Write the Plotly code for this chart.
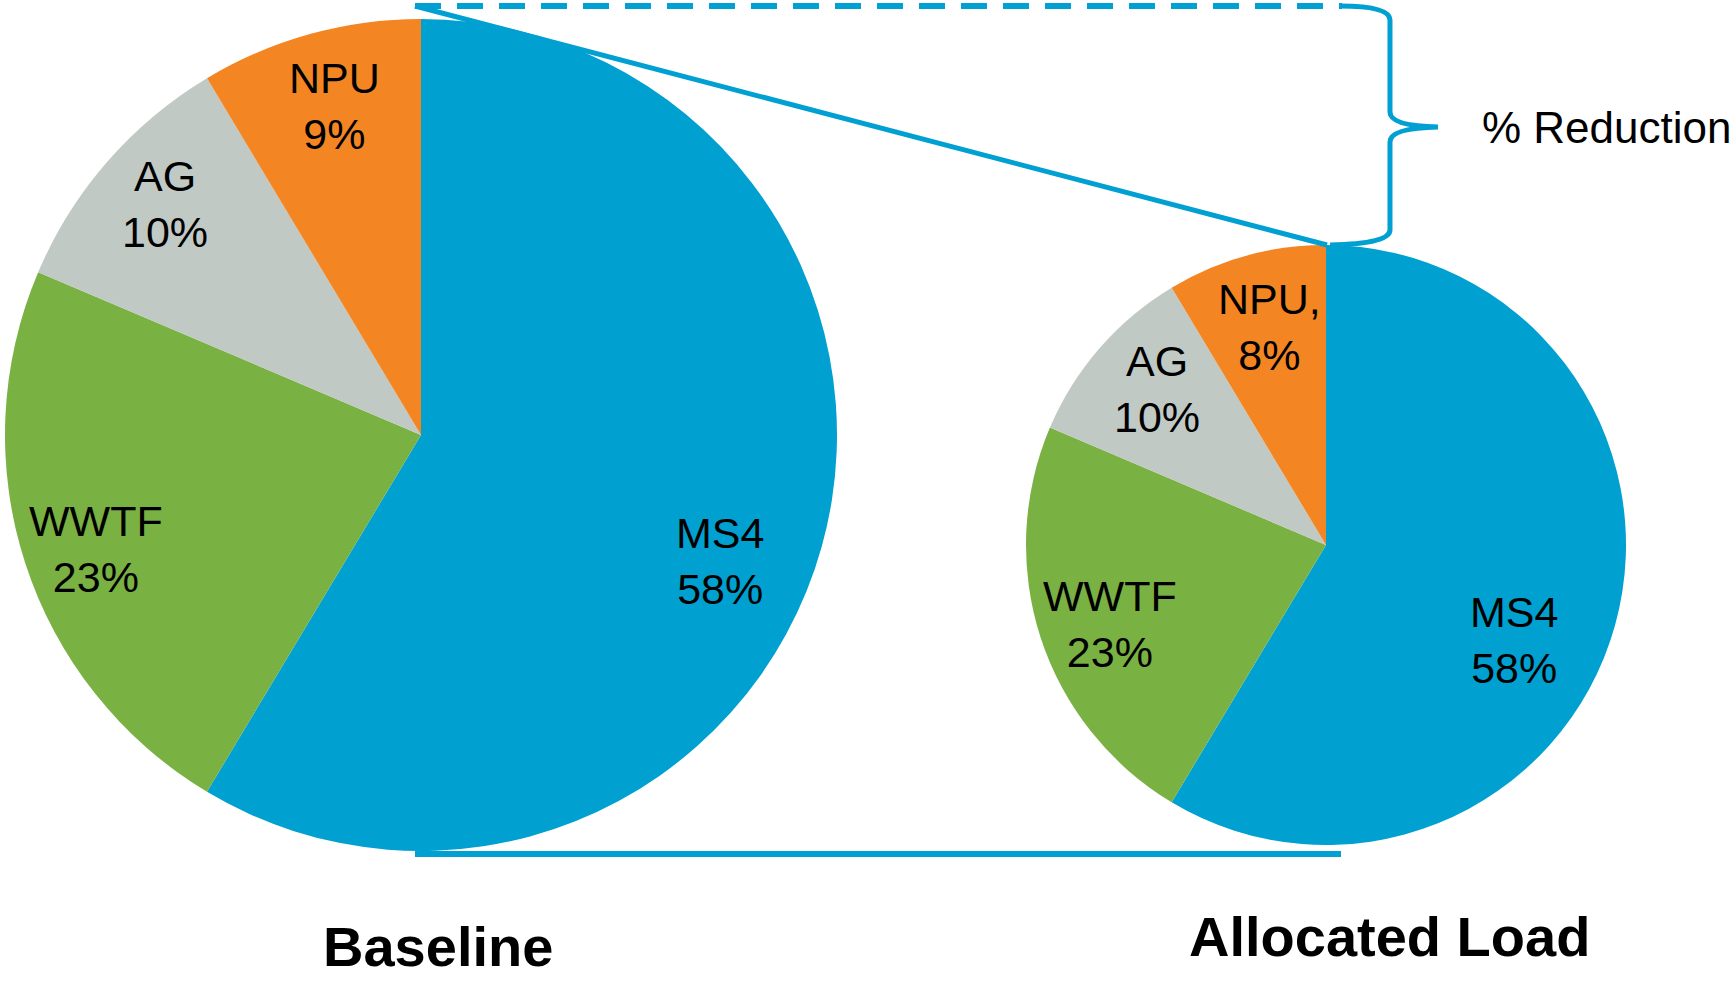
import math
import plotly.graph_objects as go

# ---- data ----
categories = ["MS4", "WWTF", "AG", "NPU"]
baseline_values = [58.6, 22.8, 10.0, 8.6]
allocated_values = [58.6, 22.8, 10.0, 8.6]
baseline_labels = ["MS4<br>58%", "WWTF<br>23%", "AG<br>10%", "NPU<br>9%"]
allocated_labels = ["MS4<br>58%", "WWTF<br>23%", "AG<br>10%", "NPU,<br>8%"]
titles = ["Baseline", "Allocated Load"]
bracket_label = "% Reduction"

# ---- style / layout ----
W, H = 1734, 981
colors = ["#00A0D1", "#7AB143", "#C1C9C5", "#F38622"]
line_color = "#00A0D2"
FONT = "Liberation Sans, Arial, sans-serif"
# small per-category pixel nudges of the slice labels (style only)
label_nudge = [(-26, 36), (-5, 10), (-2, -10), (3, -4)]


def px(x):
    return x / W


def py(y):
    return 1 - y / H


# pie geometry in pixels (center x, center y, radius)
pies = [
    dict(cx=421, cy=435, r=416, values=baseline_values, labels=baseline_labels, lab_f=0.81),
    dict(cx=1326, cy=545, r=300, values=allocated_values, labels=allocated_labels, lab_f=0.74),
]

fig = go.Figure()
annotations = []
for p in pies:
    cx, cy, r = p["cx"], p["cy"], p["r"]
    fig.add_trace(go.Pie(
        values=p["values"], labels=categories, sort=False, direction="clockwise",
        rotation=0, textinfo="none", hoverinfo="label+percent",
        marker=dict(colors=colors, line=dict(width=0)),
        domain=dict(x=[px(cx - r), px(cx + r)], y=[py(cy + r), py(cy - r)]),
        showlegend=False,
    ))
    total = sum(p["values"])
    cum = 0.0
    for v, lab, (nx, ny) in zip(p["values"], p["labels"], label_nudge):
        mid = (cum + v / 2) / total
        cum += v
        th = 2 * math.pi * mid
        lx = cx + r * p["lab_f"] * math.sin(th) + nx
        ly = cy - r * p["lab_f"] * math.cos(th) + ny
        annotations.append(dict(
            x=px(lx), y=py(ly), xref="paper", yref="paper", text=lab,
            showarrow=False, xanchor="center", yanchor="middle",
            font=dict(family=FONT, size=43, color="black"), align="center",
        ))

# titles
annotations.append(dict(x=px(438), y=py(946), xref="paper", yref="paper", text="<b>" + titles[0] + "</b>",
                        showarrow=False, xanchor="center", yanchor="middle",
                        font=dict(family=FONT, size=56, color="black")))
annotations.append(dict(x=px(1389), y=py(936), xref="paper", yref="paper", text="<b>" + titles[1] + "</b>",
                        showarrow=False, xanchor="center", yanchor="middle",
                        font=dict(family=FONT, size=56, color="black")))
annotations.append(dict(x=px(1480), y=py(128), xref="paper", yref="paper", text=bracket_label,
                        showarrow=False, xanchor="left", yanchor="middle",
                        font=dict(family=FONT, size=44, color="black")))


def path(points):
    s = []
    for cmd, *c in points:
        pts = [f"{px(c[i]):.5f},{py(c[i+1]):.5f}" for i in range(0, len(c), 2)]
        s.append(cmd + " " + " ".join(pts))
    return " ".join(s)


shapes = [
    # dashed top line
    dict(type="line", xref="paper", yref="paper", x0=px(415), y0=py(6), x1=px(1342), y1=py(6),
         line=dict(color=line_color, width=6, dash="26px,16px"), layer="above"),
    # slanted connector
    dict(type="line", xref="paper", yref="paper", x0=px(415), y0=py(6), x1=px(1327), y1=py(245),
         line=dict(color=line_color, width=5), layer="above"),
    # bottom connector
    dict(type="line", xref="paper", yref="paper", x0=px(415), y0=py(854), x1=px(1341), y1=py(854),
         line=dict(color=line_color, width=6), layer="above"),
    # curly brace
    dict(type="path", xref="paper", yref="paper", layer="above",
         path=path([("M", 1340, 6), ("Q", 1390, 6, 1390, 20), ("L", 1390, 112),
                    ("Q", 1390, 126, 1438, 127), ("Q", 1390, 128, 1390, 142),
                    ("L", 1390, 230), ("Q", 1390, 244, 1330, 245)]),
         line=dict(color=line_color, width=5)),
]

fig.update_layout(
    width=W, height=H, margin=dict(l=0, r=0, t=0, b=0),
    paper_bgcolor="white", plot_bgcolor="white", showlegend=False,
    annotations=annotations, shapes=shapes,
)

fig.write_html("out.html")
